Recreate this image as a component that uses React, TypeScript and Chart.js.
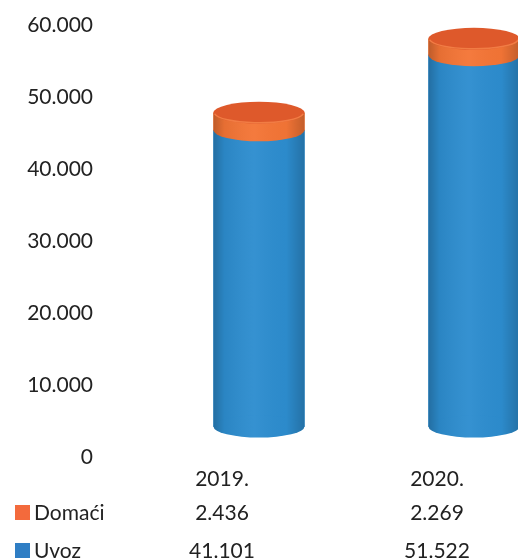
import React, { useEffect, useRef } from 'react';
import { Chart, registerables } from 'chart.js';
Chart.register(...registerables);

const categories = ['2019.', '2020.'];
const seriesNames = ['Domaći', 'Uvoz'];
const domaci = [2436, 2269];
const uvoz = [41101, 51522];
const yTickValues = [0, 10000, 20000, 30000, 40000, 50000, 60000];

const BLUE = '#2D8DCF';
const ORANGE = '#F47536';
const ORANGE_TOP = '#DE592B';
const FONT = 'Lato, "Open Sans", sans-serif';
const SHIFT = 9;

const fmt = (v: number) => String(Math.round(v)).replace(/\B(?=(\d{3})+(?!\d))/g, '.');

const cylinderPlugin = {
  id: 'cylinders',
  afterDatasetsDraw(chart: any) {
    const ctx = chart.ctx;
    const mBlue = chart.getDatasetMeta(0);
    const mOr = chart.getDatasetMeta(1);
    const ry = 11;
    ctx.save();
    ctx.beginPath();
    ctx.rect(0, 0, 518, chart.chartArea.bottom);
    ctx.clip();
    mBlue.data.forEach((b: any, i: number) => {
      const o = mOr.data[i];
      const bp = b.getProps(['x', 'y', 'base', 'width'], true);
      const op = o.getProps(['x', 'y', 'base', 'width'], true);
      const x = bp.x;
      const rx = bp.width / 2;
      ctx.fillStyle = BLUE;
      ctx.beginPath();
      ctx.ellipse(x, bp.base, rx, ry, 0, 0, Math.PI * 2);
      ctx.fill();
      ctx.fillStyle = ORANGE;
      ctx.beginPath();
      ctx.ellipse(x, op.base, rx, ry, 0, 0, Math.PI * 2);
      ctx.fill();
      const g = ctx.createLinearGradient(x - rx, 0, x + rx, 0);
      g.addColorStop(0, 'rgba(0,0,0,0.22)');
      g.addColorStop(0.12, 'rgba(0,0,0,0.06)');
      g.addColorStop(0.45, 'rgba(255,255,255,0.04)');
      g.addColorStop(0.8, 'rgba(0,0,0,0.02)');
      g.addColorStop(1, 'rgba(0,0,0,0.2)');
      ctx.fillStyle = g;
      ctx.beginPath();
      ctx.moveTo(x - rx, op.y);
      ctx.lineTo(x - rx, bp.base);
      ctx.ellipse(x, bp.base, rx, ry, 0, Math.PI, 0, true);
      ctx.lineTo(x + rx, op.y);
      ctx.closePath();
      ctx.fill();
      ctx.fillStyle = ORANGE_TOP;
      ctx.beginPath();
      ctx.ellipse(x, op.y, rx, ry, 0, 0, Math.PI * 2);
      ctx.fill();
      ctx.strokeStyle = 'rgba(250,140,80,0.7)';
      ctx.lineWidth = 1.5;
      ctx.beginPath();
      ctx.ellipse(x, op.y, rx - 1, ry - 1, 0, 0.1, Math.PI - 0.1);
      ctx.stroke();
    });
    ctx.restore();
  },
};

const tablePlugin = {
  id: 'dataTable',
  afterDraw(chart: any) {
    const ctx = chart.ctx;
    const xs = chart.scales.x;
    const rows = [
      { name: seriesNames[0], values: domaci, color: '#F36A3C', baseline: 520 + SHIFT },
      { name: seriesNames[1], values: uvoz, color: '#2F7EC4', baseline: 558 + SHIFT },
    ];
    ctx.save();
    ctx.font = `21px ${FONT}`;
    ctx.textBaseline = 'alphabetic';
    rows.forEach((r) => {
      ctx.fillStyle = r.color;
      ctx.fillRect(15, r.baseline - 15, 15, 15);
      ctx.fillStyle = '#222';
      ctx.textAlign = 'left';
      ctx.fillText(r.name, 34, r.baseline);
      ctx.textAlign = 'center';
      r.values.forEach((v, i) => {
        ctx.fillText(fmt(v), xs.getPixelForValue(i), r.baseline);
      });
    });
    ctx.restore();
  },
};

export default function App() {
  const ref = useRef<HTMLCanvasElement>(null);
  useEffect(() => {
    document.body.style.margin = '0';
    const chart = new Chart(ref.current!, {
      type: 'bar',
      data: {
        labels: categories,
        datasets: [
          {
            label: seriesNames[1],
            data: uvoz.map((v, i) => ({ x: i, y: v })),
            backgroundColor: BLUE,
            xAxisID: 'xb',
            yAxisID: 'y2',
            barThickness: 91,
          },
          {
            label: seriesNames[0],
            data: domaci.map((v, i) => ({ x: i, y: v })),
            backgroundColor: ORANGE,
            xAxisID: 'xb',
            yAxisID: 'y2',
            barThickness: 91,
          },
        ],
      },
      options: {
        animation: false,
        responsive: true,
        maintainAspectRatio: false,
        layout: { padding: { left: 0, right: 15.5, top: 17, bottom: 0 } },
        plugins: { legend: { display: false }, tooltip: { enabled: false } },
        scales: {
          x: {
            type: 'category',
            position: 'bottom',
            grid: { display: false, drawTicks: false },
            border: { display: false },
            ticks: { color: '#222', font: { family: FONT, size: 21 }, padding: 9 },
            afterFit: (s: any) => { s.height = 101.5; },
          },
          y: {
            type: 'linear',
            position: 'left',
            min: 0,
            max: 60000,
            grid: { display: false, drawTicks: false },
            border: { display: false },
            afterBuildTicks: (s: any) => { s.ticks = yTickValues.map((v) => ({ value: v })); },
            ticks: {
              color: '#222',
              font: { family: FONT, size: 21 },
              padding: 21.5,
              callback: (v: any) => fmt(Number(v)),
            },
            afterFit: (s: any) => { s.width = 114.5; },
          },
          xb: {
            type: 'linear',
            display: false,
            stacked: true,
            offset: false,
            min: -0.672,
            max: 1.328,
          },
          y2: {
            type: 'linear',
            display: false,
            stacked: true,
            min: -4306,
            max: 55694,
          },
        },
      },
      plugins: [cylinderPlugin, tablePlugin],
    });
    return () => chart.destroy();
  }, []);
  return (
    <div style={{ position: 'fixed', left: 0, top: 0, width: 518, height: 559, overflow: 'hidden', background: '#fff' }}>
      <div style={{ width: 560, height: 559 + SHIFT, marginTop: -SHIFT }}>
        <canvas ref={ref} />
      </div>
    </div>
  );
}
